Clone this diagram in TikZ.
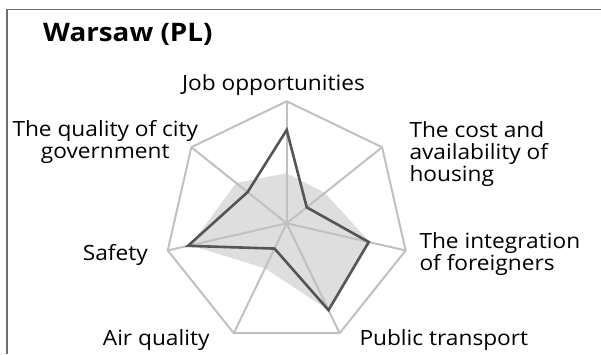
\documentclass[tikz,border=0pt]{standalone}
\usepackage{fontspec}
\setmainfont{Open Sans}
\newfontfamily\lblfont{Open Sans}[FakeStretch=1.08]
\newfontfamily\ttlfont{Open Sans}[FakeStretch=1.09]
\definecolor{gridc}{RGB}{192,192,192}
\definecolor{avgc}{RGB}{222,222,222}
\definecolor{cityc}{RGB}{85,85,85}
\definecolor{framec}{RGB}{110,110,110}
\tikzset{
  lbl/.style={font=\lblfont\fontsize{21}{22}\selectfont, inner sep=0pt, text=black},
  gridline/.style={draw=gridc, line width=2pt, line join=miter},
  cityline/.style={draw=cityc, line width=2.6pt, line join=miter},
}
\begin{document}
\begin{tikzpicture}[x=1pt,y=1pt]
\useasboundingbox (0,0) rectangle (601,354);
% frame
\draw[framec, line width=1.5pt] (7,0) -- (7,344.7) -- (601,344.7);
\def\R{122}
\begin{scope}[shift={(286.7,130.7)}]
  \coordinate (C) at (0,0);
  % average area
  \fill[avgc] (90:{0.41*\R}) -- ({90-360/7}:{0.40*\R}) -- ({90-2*360/7}:{0.70*\R})
     -- ({90-3*360/7}:{0.79*\R}) -- ({90-4*360/7}:{0.41*\R}) -- ({90-5*360/7}:{0.81*\R})
     -- ({90-6*360/7}:{0.53*\R}) -- cycle;
  % grid
  \foreach \i/\n in {0/job,1/cost,2/integ,3/pub,4/air,5/safe,6/gov}
    \coordinate (\n) at ({90-\i*360/7}:\R);
  \foreach \n in {job,cost,integ,pub,air,safe,gov}
    \draw[gridline] (C) -- (\n);
  \draw[gridline] (job) -- (cost) -- (integ) -- (pub) -- (air) -- (safe) -- (gov) -- cycle;
  % city values
  \draw[cityline] (90:{0.765*\R}) -- ({90-360/7}:{0.21*\R}) -- ({90-2*360/7}:{0.69*\R})
     -- ({90-3*360/7}:{0.79*\R}) -- ({90-4*360/7}:{0.23*\R}) -- ({90-5*360/7}:{0.83*\R})
     -- ({90-6*360/7}:{0.41*\R}) -- cycle;
\end{scope}
% labels
\node[anchor=base west, inner sep=0pt, font=\ttlfont\bfseries\fontsize{25.5}{28}\selectfont] (title) at (43,312.3) {Warsaw (PL)};
\node[lbl, anchor=base] (ljob) at (273.5,263.3) {Job opportunities};
\node[lbl, anchor=base, align=center] (lgov) at (105.3,195.7) {The quality of city\\government};
\node[lbl, anchor=base west, align=left] (lcost) at (409.3,172.7) {The cost and\\availability of\\housing};
\node[lbl, anchor=base west, align=left] (linteg) at (419.3,84) {The integration\\of foreigners};
\node[lbl, anchor=base west] (lpub) at (359.3,9) {Public transport};
\node[lbl, anchor=base west] (lair) at (102.7,8.3) {Air quality};
\node[lbl, anchor=base west] (lsafe) at (82.7,94) {Safety};
\end{tikzpicture}
\end{document}
